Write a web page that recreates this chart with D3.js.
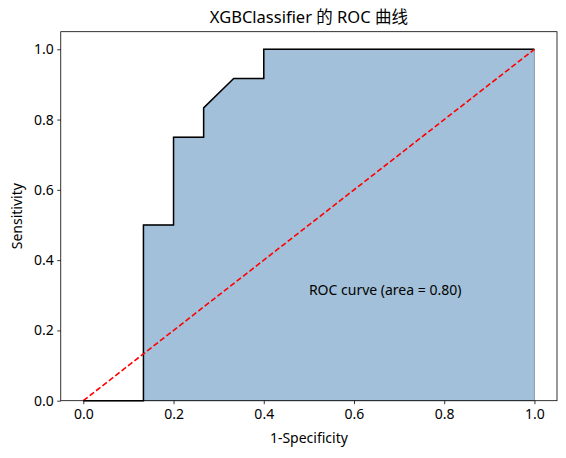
<!DOCTYPE html>
<html>
<head>
<meta charset="utf-8">
<script src="https://cdn.jsdelivr.net/npm/d3@7"></script>
<style>
  body { margin: 0; background: #fff; }
  text { font-family: "Noto Sans", "Noto Sans CJK SC", sans-serif; fill: #000; }
</style>
</head>
<body>
<div id="chart"></div>
<script>
// ROC points
var fpr = [0, 0.1333, 0.1333, 0.2, 0.2, 0.2667, 0.2667, 0.3333, 0.4, 0.4, 1];
var tpr = [0, 0, 0.5, 0.5, 0.75, 0.75, 0.8333, 0.9167, 0.9167, 1, 1];
var xTicks = [0, 0.2, 0.4, 0.6, 0.8, 1.0];
var yTicks = [0, 0.2, 0.4, 0.6, 0.8, 1.0];
var aucLabel = "ROC curve (area = 0.80)";

var W = 566, H = 458;
var pL = 60.75, pR = 557, pT = 31.7, pB = 400.7;
var FONT = '"Noto Sans", "Noto Sans CJK SC", sans-serif';
var FS = "14px";

var svg = d3.select("#chart").append("svg")
    .attr("width", W).attr("height", H);

var x = d3.scaleLinear().domain([-0.05, 1.05]).range([pL, pR]);
var y = d3.scaleLinear().domain([0, 1.05]).range([pB, pT]);

var pts = fpr.map(function (d, i) { return [d, tpr[i]]; });

// shaded area under curve
var area = d3.area()
    .x(function (d) { return x(d[0]); })
    .y0(y(0))
    .y1(function (d) { return y(d[1]); });
svg.append("path")
    .datum(pts)
    .attr("d", area)
    .attr("fill", "steelblue")
    .attr("fill-opacity", 0.5)
    .attr("stroke", "#4a5a6a")
    .attr("stroke-opacity", 0.5)
    .attr("stroke-width", 1);

// ROC line
var line = d3.line()
    .x(function (d) { return x(d[0]); })
    .y(function (d) { return y(d[1]); });
svg.append("path")
    .datum(pts)
    .attr("d", line)
    .attr("fill", "none")
    .attr("stroke", "#000")
    .attr("stroke-width", 1.5);

// chance line
svg.append("path")
    .datum([[0, 0], [1, 1]])
    .attr("d", line)
    .attr("fill", "none")
    .attr("stroke", "red")
    .attr("stroke-width", 1.6)
    .attr("stroke-dasharray", "5.5,2.6");

svg.append("text")
    .attr("x", x(0.5)).attr("y", y(0.3))
    .attr("font-size", FS)
    .text(aucLabel);

// axes
var xAxis = d3.axisBottom(x).tickValues(xTicks).tickFormat(d3.format(".1f")).tickSizeOuter(0).tickSize(3.5);
var yAxis = d3.axisLeft(y).tickValues(yTicks).tickFormat(d3.format(".1f")).tickSizeOuter(0).tickSize(3.5);

var gx = svg.append("g").attr("transform", "translate(0," + pB + ")").call(xAxis);
var gy = svg.append("g").attr("transform", "translate(" + pL + ",0)").call(yAxis);
[gx, gy].forEach(function (g) {
  g.select(".domain").remove();
  g.selectAll("line").attr("stroke", "#000").attr("stroke-width", 0.8);
  g.selectAll("text").attr("font-size", FS).attr("fill", "#000")
    .style("font-family", FONT);
});
gx.selectAll("text").attr("dy", "0.95em").attr("y", 5);
gy.selectAll("text").attr("x", -7);

// frame
svg.append("rect")
    .attr("x", pL).attr("y", pT)
    .attr("width", pR - pL).attr("height", pB - pT)
    .attr("fill", "none").attr("stroke", "#000").attr("stroke-width", 0.8);

svg.append("text")
    .attr("x", (pL + pR) / 2).attr("y", 23)
    .attr("text-anchor", "middle")
    .attr("font-size", "16.5px")
    .text("XGBClassifier 的 ROC 曲线");

svg.append("text")
    .attr("x", (pL + pR) / 2).attr("y", 443)
    .attr("text-anchor", "middle")
    .attr("font-size", FS)
    .text("1-Specificity");

svg.append("text")
    .attr("transform", "translate(22," + ((pT + pB) / 2) + ") rotate(-90)")
    .attr("text-anchor", "middle")
    .attr("font-size", FS)
    .text("Sensitivity");
</script>
</body>
</html>
